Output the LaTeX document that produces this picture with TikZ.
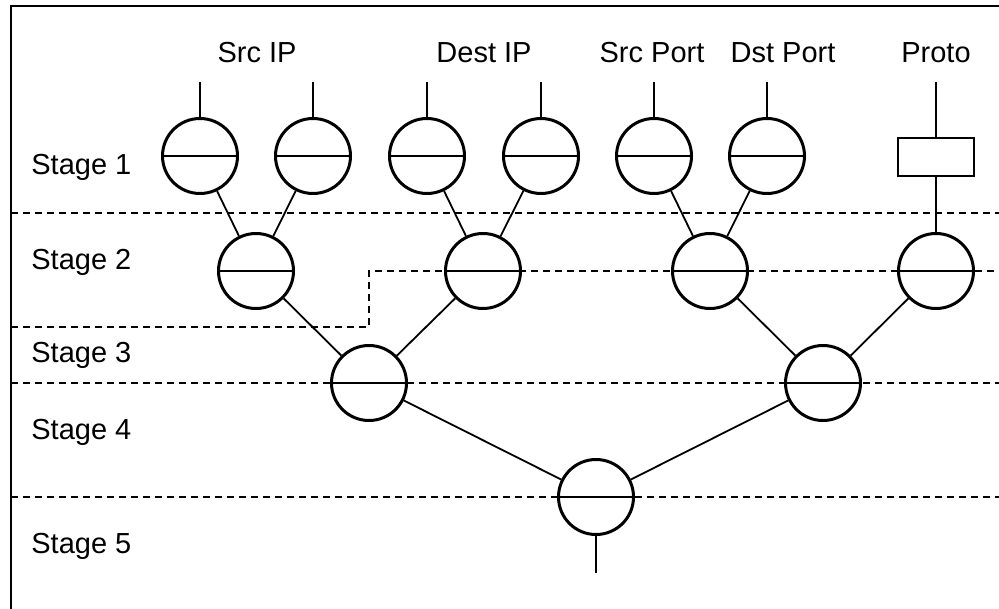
\documentclass[tikz,border=0pt]{standalone}
\usepackage{fontspec}
\setmainfont{Liberation Sans}
\begin{document}
\begin{tikzpicture}[x=0.5pt,y=-0.5pt,
  unit/.style={circle, draw, line width=1.5pt, minimum size=37.5pt, inner sep=0pt},
  wire/.style={line width=0.9pt},
  cut/.style={line width=1.2pt, dash pattern=on 3.5pt off 2.5pt},
  lbl/.style={font=\fontsize{14.5}{17}\selectfont, inner sep=0pt}]
\useasboundingbox (0,0) rectangle (999,609);
% frame
\draw[line width=1.3pt] (11,609)--(11,6)--(999,6);

% stage boundaries
\draw[cut] (11,213)--(999,213);
\draw[cut] (11,327)--(369,327)--(369,271)--(999,271);
\draw[cut] (11,383)--(999,383);
\draw[cut] (11,497)--(999,497);

% stage 1
\node[unit] (s1a) at (200,156) {};
\node[unit] (s1b) at (313,156) {};
\node[unit] (s1c) at (427,156) {};
\node[unit] (s1d) at (541,156) {};
\node[unit] (s1e) at (654,156) {};
\node[unit] (s1f) at (767,156) {};
\node[draw, line width=0.7pt, minimum width=38pt, minimum height=19pt, inner sep=0pt] (p1) at (936,157) {};
% stage 2
\node[unit] (s2a) at (256,271) {};
\node[unit] (s2b) at (483,271) {};
\node[unit] (s2c) at (710,271) {};
\node[unit] (s2d) at (936,271) {};
% stage 3
\node[unit] (s3a) at (369,383) {};
\node[unit] (s3b) at (823,383) {};
% stage 4
\node[unit] (s4) at (596,497) {};

\foreach \n in {s1a,s1b,s1c,s1d,s1e,s1f,s2a,s2b,s2c,s2d,s3a,s3b,s4}
  \draw[line width=1.2pt] (\n.west)--(\n.east);

% inputs
\foreach \x/\n in {200/s1a,313/s1b,427/s1c,541/s1d,654/s1e,767/s1f,936/p1}{
  \coordinate (in-\n) at (\x,82);
  \draw[wire] (in-\n)--(\n);
}
\coordinate (out) at (596,573);
\draw[wire] (s4)--(out);

% tree
\draw[wire] (s1a)--(s2a) (s1b)--(s2a);
\draw[wire] (s1c)--(s2b) (s1d)--(s2b);
\draw[wire] (s1e)--(s2c) (s1f)--(s2c);
\draw[wire] (p1)--(s2d);
\draw[wire] (s2a)--(s3a) (s2b)--(s3a);
\draw[wire] (s2c)--(s3b) (s2d)--(s3b);
\draw[wire] (s3a)--(s4) (s3b)--(s4);

% field names
\node[lbl] (srcip) at (257,53) {Src IP};
\node[lbl] (dstip) at (484,53) {Dest IP};
\node[lbl] (srcport) at (652,53) {Src Port};
\node[lbl] (dstport) at (783,53) {Dst Port};
\node[lbl] (proto) at (936,53) {Proto};

% stage names
\node[lbl, anchor=west] (st1) at (31,167) {Stage 1};
\node[lbl, anchor=west] (st2) at (31,262) {Stage 2};
\node[lbl, anchor=west] (st3) at (31,355) {Stage 3};
\node[lbl, anchor=west] (st4) at (31,432) {Stage 4};
\node[lbl, anchor=west] (st5) at (31,546) {Stage 5};
\end{tikzpicture}
\end{document}
